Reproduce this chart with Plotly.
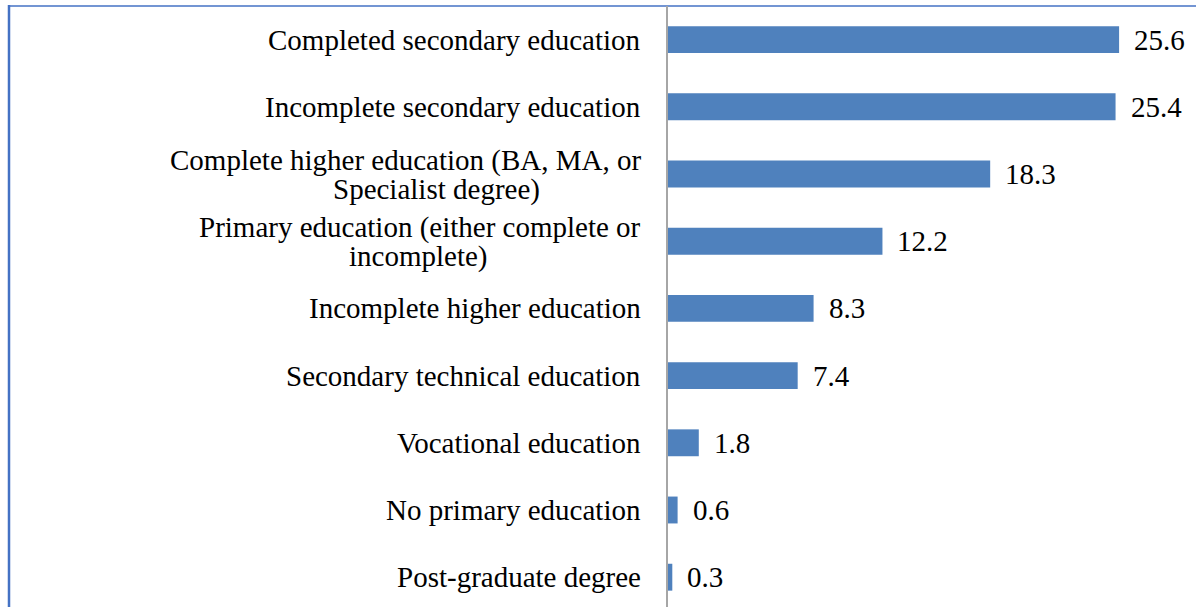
import plotly.graph_objects as go

categories = [
    "Completed secondary education",
    "Incomplete secondary education",
    "Complete higher education (BA, MA, or<br>Specialist degree)",
    "Primary education (either complete or<br>incomplete)",
    "Incomplete higher education",
    "Secondary technical education",
    "Vocational education",
    "No primary education",
    "Post-graduate degree",
]
values = [25.6, 25.4, 18.3, 12.2, 8.3, 7.4, 1.8, 0.6, 0.3]
value_labels = ["25.6", "25.4", "18.3", "12.2", "8.3", "7.4", "1.8", "0.6", "0.3"]

W, H = 1196, 607
ML, MR, MT, MB = 667, 0, 6, 0
FONT = "Liberation Serif, Times New Roman, serif"
FS = 29
LABEL_XSHIFT = -24
# horizontal offset (px from the axis) of the right edge of second lines of wrapped labels
SECOND_LINE_XSHIFT = [-125, -177]

fig = go.Figure()
fig.add_trace(go.Bar(
    x=values, y=categories, orientation="h",
    marker=dict(color="#4F81BD", line=dict(width=0)),
    hoverinfo="skip",
))

annotations = []
wrap_i = 0
for c in categories:
    lines = c.split("<br>")
    base = dict(x=0, xref="paper", y=c, yref="y", showarrow=False,
                xanchor="right", yanchor="middle",
                font=dict(family=FONT, size=FS, color="#000000"))
    if len(lines) == 1:
        annotations.append(dict(base, text=c, xshift=LABEL_XSHIFT))
    else:
        annotations.append(dict(base, text=lines[0], xshift=LABEL_XSHIFT, yshift=14))
        annotations.append(dict(base, text=lines[1], xshift=SECOND_LINE_XSHIFT[wrap_i], yshift=-15))
        wrap_i += 1
for c, v, t in zip(categories, values, value_labels):
    annotations.append(dict(
        x=v, xref="x", y=c, yref="y", text=t, showarrow=False,
        xanchor="left", yanchor="middle", xshift=13,
        font=dict(family=FONT, size=FS, color="#000000"),
    ))

pw = W - ML - MR
ph = H - MT - MB
def px_x(p):
    return (p - ML) / pw
def px_y(p):
    return 1 - (p - MT) / ph

shapes = [
    dict(type="line", xref="paper", yref="paper", x0=px_x(9), x1=px_x(9), y0=px_y(5), y1=px_y(H + 2),
         line=dict(color="#4472C4", width=2.5)),
    dict(type="line", xref="paper", yref="paper", x0=px_x(8), x1=px_x(W + 2), y0=px_y(6), y1=px_y(6),
         line=dict(color="#4472C4", width=1.5)),
    dict(type="line", xref="paper", yref="paper", x0=0, x1=0, y0=px_y(6), y1=px_y(H + 2),
         line=dict(color="#A6A6A6", width=2)),
]

fig.update_layout(
    width=W, height=H,
    margin=dict(l=ML, r=MR, t=MT, b=MB, pad=0),
    paper_bgcolor="#FFFFFF", plot_bgcolor="#FFFFFF",
    showlegend=False,
    bargap=0.6,
    xaxis=dict(range=[0, pw / 17.66], visible=False, fixedrange=True),
    yaxis=dict(type="category", categoryorder="array", categoryarray=categories,
               range=[-0.5 + ph / 67.2, -0.5], showticklabels=False, showgrid=False,
               zeroline=False, showline=False, ticks="", fixedrange=True),
    annotations=annotations,
    shapes=shapes,
)

fig.write_html("out.html", config={"displayModeBar": False},
               post_script="document.body.style.margin='0px';document.body.style.overflow='hidden';")
